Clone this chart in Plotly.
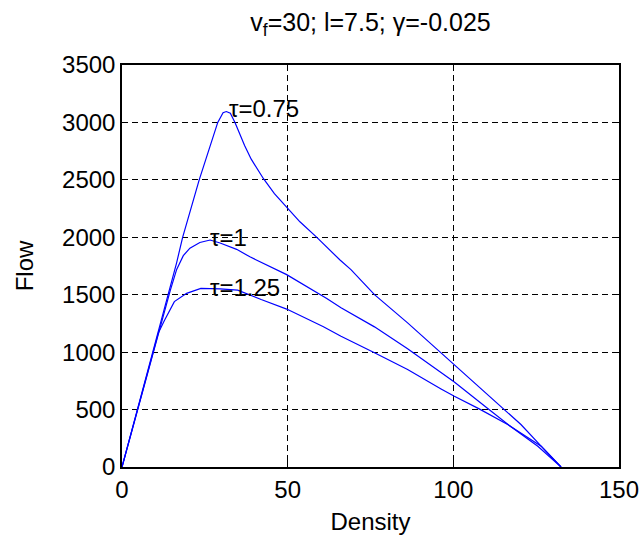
import plotly.graph_objects as go

# Density / Flow data for each relaxation time tau
k_075 = [0, 4.7, 9.3, 12.0, 14.6, 16.5, 18.3, 23.3, 28.9, 30.5, 31.5, 32.7, 34.1, 35.5, 37.0,
         39.0, 42.7, 46.0, 49.7, 53.7, 58.8, 65.8, 69.1, 76.2, 86.2, 96.3, 100.3, 106.3,
         115.4, 120.4, 126.5, 132.5]
q_075 = [0, 500, 1000, 1290, 1560, 1780, 2000, 2500, 3000, 3085, 3095, 3080, 3000, 2900, 2800,
         2680, 2510, 2380, 2258, 2135, 1999, 1802, 1719, 1501, 1255, 995, 890, 733,
         506, 370, 181, 0]

k_100 = [0, 4.7, 9.3, 12.0, 14.6, 16.5, 18.5, 20.5, 23.5, 26.6, 29.6, 34.6, 38.6, 49.7, 61.8,
         66.1, 76.2, 86.2, 96.3, 100.3, 109.9, 117.4, 125.5, 132.5]
q_100 = [0, 500, 1000, 1280, 1540, 1720, 1840, 1905, 1955, 1976, 1950, 1895, 1830, 1675, 1468,
         1386, 1220, 1030, 820, 740, 520, 350, 181, 0]

k_125 = [0, 4.7, 9.3, 11.0, 12.8, 15.8, 19.5, 23.8, 29.6, 34.9, 42.0, 49.7, 60.8, 66.1,
         76.2, 86.2, 96.3, 100.3, 107.8, 116.4, 126.5, 132.5]
q_125 = [0, 500, 1000, 1170, 1275, 1440, 1512, 1555, 1550, 1540, 1458, 1375, 1221, 1138,
         994, 849, 680, 616, 506, 370, 181, 0]

labels = ["τ=0.75", "τ=1", "τ=1.25"]
label_k = [31.9, 26.3, 26.3]
label_q = [3125, 2000, 1565]

x_ticks = [0, 50, 100, 150]
y_ticks = [0, 500, 1000, 1500, 2000, 2500, 3000, 3500]

FONT = "Arial, Liberation Sans, sans-serif"
FS = 24

fig = go.Figure()
for kk, qq in [(k_075, q_075), (k_100, q_100), (k_125, q_125)]:
    fig.add_trace(go.Scatter(x=kk, y=qq, mode="lines",
                             line=dict(color="rgb(0,0,255)", width=1.2),
                             showlegend=False, hoverinfo="skip"))

for t, kx, qy in zip(labels, label_k, label_q):
    fig.add_annotation(x=kx, y=qy, text=t, showarrow=False,
                       xanchor="left", yanchor="middle",
                       font=dict(family=FONT, size=FS, color="black"),
                       borderpad=0)

axis_common = dict(
    showgrid=True, gridcolor="black", gridwidth=1, griddash="6px,4px",
    showline=True, linecolor="black", linewidth=1.5, mirror="ticks",
    ticks="inside", ticklen=6, tickcolor="black", zeroline=False,
    automargin=False,
    tickfont=dict(family=FONT, size=FS, color="black"),
)

fig.update_layout(
    width=640, height=542,
    margin=dict(l=122, r=21, t=65, b=75),
    paper_bgcolor="white", plot_bgcolor="white",
    title=dict(text="v<sub>f</sub>=30; l=7.5; γ=-0.025",
               font=dict(family=FONT, size=25, color="black"),
               x=0.5, xanchor="center", xref="paper",
               y=1 - 22 / 542, yanchor="middle", automargin=False),
    xaxis=dict(range=[0, 150], tickvals=x_ticks,
               title=dict(text="Density", font=dict(family=FONT, size=FS, color="black"), standoff=12),
               **axis_common),
    yaxis=dict(range=[0, 3500], tickvals=y_ticks,
               title=dict(text="Flow", font=dict(family=FONT, size=FS, color="black"), standoff=22),
               **axis_common),
    font=dict(family=FONT, size=FS, color="black"),
)

fig.write_html("out.html")
